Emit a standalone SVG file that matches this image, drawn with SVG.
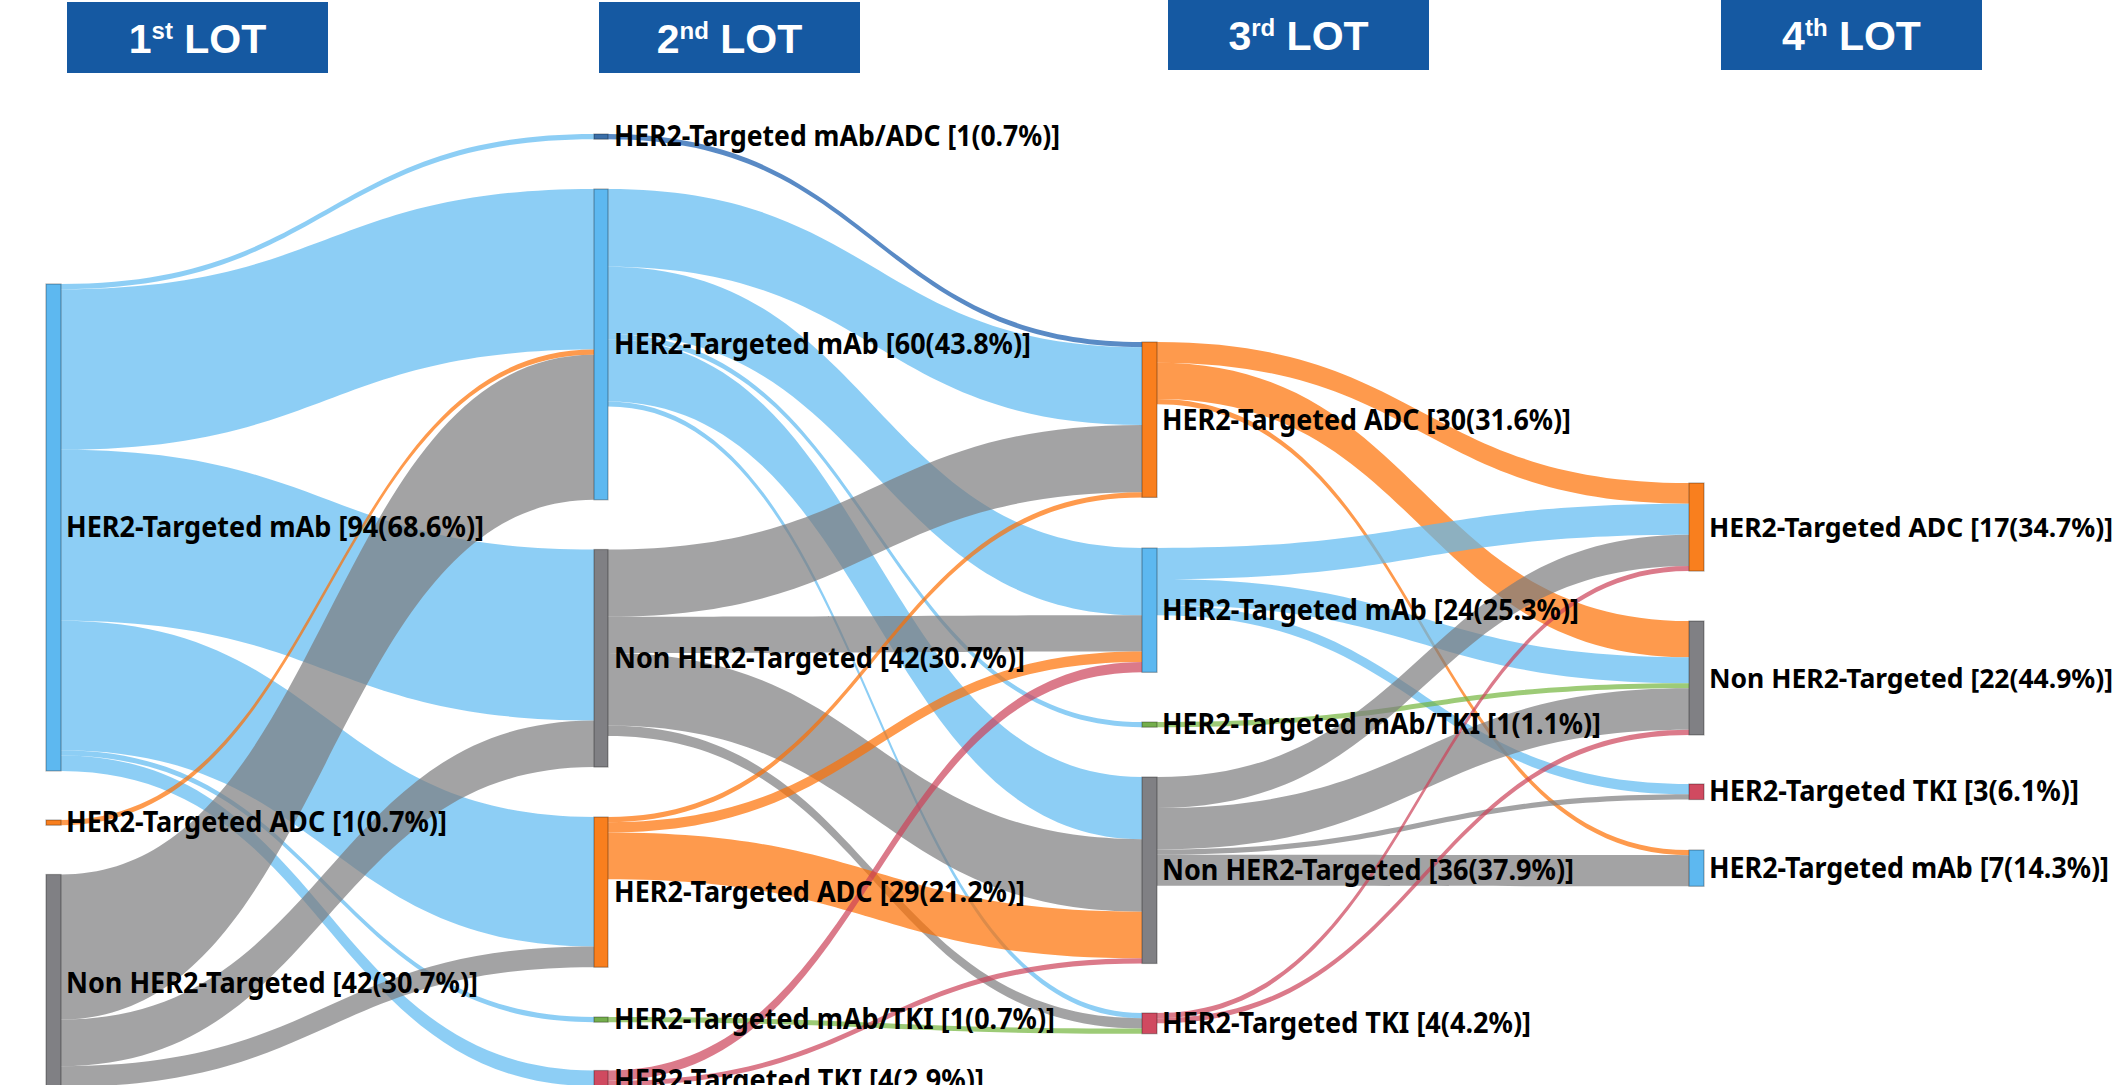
<svg xmlns="http://www.w3.org/2000/svg" width="2124" height="1085" viewBox="0 0 2124 1085">
<style>
.hdr{fill:#1559A2}
.ht{font-family:"Liberation Sans",Arial,sans-serif;font-weight:bold;font-size:41px;fill:#ffffff}
.lbl{font-family:"Noto Sans","DejaVu Sans",sans-serif;font-weight:bold;font-size:28px;fill:#000000}
.sm{font-size:26.5px}
.node{stroke:#000;stroke-opacity:0.3;stroke-width:1.2}
.nb{fill:#5DB8F0}.no{fill:#F97F1E}.ng{fill:#808084}.nr{fill:#D04A60}.nn{fill:#74AE4C}.nd{fill:#3A6EA8}
.lk{fill-opacity:0.7;stroke:none}
.b{fill:#5CB9F1}.o{fill:#FE6F02}.g{fill:#7C7C7E}.r{fill:#CC4158}.n{fill:#73B53D}.d{fill:#1359AC}
</style>
<rect width="2124" height="1085" fill="#ffffff"/>
<g id="headers">
<rect class="hdr" x="67" y="2" width="261" height="71"/>
<text class="ht" x="197.5" y="53" text-anchor="middle">1<tspan dy="-14" font-size="24">st</tspan><tspan dy="14"> LOT</tspan></text>
<rect class="hdr" x="599" y="2" width="261" height="71"/>
<text class="ht" x="729.5" y="53" text-anchor="middle">2<tspan dy="-14" font-size="24">nd</tspan><tspan dy="14"> LOT</tspan></text>
<rect class="hdr" x="1168" y="0" width="261" height="70"/>
<text class="ht" x="1298.5" y="50" text-anchor="middle">3<tspan dy="-14" font-size="24">rd</tspan><tspan dy="14"> LOT</tspan></text>
<rect class="hdr" x="1721" y="0" width="261" height="70"/>
<text class="ht" x="1851.5" y="50" text-anchor="middle">4<tspan dy="-14" font-size="24">th</tspan><tspan dy="14"> LOT</tspan></text>
</g>
<g id="links">
<!-- col1 -> col2 -->
<path class="lk b" d="M61,284 C327.5,284 327.5,134 594,134 L594,139.18 C327.5,139.18 327.5,289.18 61,289.18 Z"/>
<path class="lk b" d="M61,289.18 C327.5,289.18 327.5,189 594,189 L594,349.58 C327.5,349.58 327.5,449.76 61,449.76 Z"/>
<path class="lk b" d="M61,449.76 C327.5,449.76 327.5,549.5 594,549.5 L594,720.44 C327.5,720.44 327.5,620.7 61,620.7 Z"/>
<path class="lk b" d="M61,620.7 C327.5,620.7 327.5,817 594,817 L594,946.5 C327.5,946.5 327.5,750.2 61,750.2 Z"/>
<path class="lk b" d="M61,750.2 C327.5,750.2 327.5,1017 594,1017 L594,1022.18 C327.5,1022.18 327.5,755.38 61,755.38 Z"/>
<path class="lk b" d="M61,755.38 C327.5,755.38 327.5,1070.5 594,1070.5 L594,1086.04 C327.5,1086.04 327.5,770.92 61,770.92 Z"/>
<path class="lk o" d="M61,820 C327.5,820 327.5,349.58 594,349.58 L594,354.76 C327.5,354.76 327.5,825.18 61,825.18 Z"/>
<path class="lk g" d="M61,874.5 C327.5,874.5 327.5,354.76 594,354.76 L594,499.8 C327.5,499.8 327.5,1019.54 61,1019.54 Z"/>
<path class="lk g" d="M61,1019.54 C327.5,1019.54 327.5,720.44 594,720.44 L594,767.06 C327.5,767.06 327.5,1066.16 61,1066.16 Z"/>
<path class="lk g" d="M61,1066.16 C327.5,1066.16 327.5,946.5 594,946.5 L594,967.22 C327.5,967.22 327.5,1086.88 61,1086.88 Z"/>
<path class="lk g" d="M61,1086.88 C327.5,1086.88 327.5,1086.04 594,1086.04 L594,1091.22 C327.5,1091.22 327.5,1092.06 61,1092.06 Z"/>
<!-- col2 -> col3 -->
<path class="lk d" d="M608,134 C875,134 875,342 1142,342 L1142,347.18 C875,347.18 875,139.18 608,139.18 Z"/>
<path class="lk b" d="M608,189 C875,189 875,347.18 1142,347.18 L1142,424.88 C875,424.88 875,266.7 608,266.7 Z"/>
<path class="lk b" d="M608,266.7 C875,266.7 875,548 1142,548 L1142,615.34 C875,615.34 875,334.04 608,334.04 Z"/>
<path class="lk b" d="M608,334.04 C875,334.04 875,722 1142,722 L1142,727.18 C875,727.18 875,339.22 608,339.22 Z"/>
<path class="lk b" d="M608,339.22 C875,339.22 875,777 1142,777 L1142,839.16 C875,839.16 875,401.38 608,401.38 Z"/>
<path class="lk b" d="M608,401.38 C875,401.38 875,1013 1142,1013 L1142,1018.18 C875,1018.18 875,406.56 608,406.56 Z"/>
<path class="lk g" d="M608,549.5 C875,549.5 875,424.88 1142,424.88 L1142,492.22 C875,492.22 875,616.84 608,616.84 Z"/>
<path class="lk g" d="M608,616.84 C875,616.84 875,615.34 1142,615.34 L1142,651.6 C875,651.6 875,653.1 608,653.1 Z"/>
<path class="lk g" d="M608,653.1 C875,653.1 875,839.16 1142,839.16 L1142,911.68 C875,911.68 875,725.62 608,725.62 Z"/>
<path class="lk g" d="M608,725.62 C875,725.62 875,1018.18 1142,1018.18 L1142,1028.54 C875,1028.54 875,735.98 608,735.98 Z"/>
<path class="lk o" d="M608,817 C875,817 875,492.22 1142,492.22 L1142,497.4 C875,497.4 875,822.18 608,822.18 Z"/>
<path class="lk o" d="M608,822.18 C875,822.18 875,651.6 1142,651.6 L1142,661.96 C875,661.96 875,832.54 608,832.54 Z"/>
<path class="lk o" d="M608,832.54 C875,832.54 875,911.68 1142,911.68 L1142,958.3 C875,958.3 875,879.16 608,879.16 Z"/>
<path class="lk n" d="M608,1017 C875,1017 875,1028.54 1142,1028.54 L1142,1033.72 C875,1033.72 875,1022.18 608,1022.18 Z"/>
<path class="lk r" d="M608,1070.5 C875,1070.5 875,661.96 1142,661.96 L1142,672.32 C875,672.32 875,1080.86 608,1080.86 Z"/>
<path class="lk r" d="M608,1080.86 C875,1080.86 875,958.3 1142,958.3 L1142,963.48 C875,963.48 875,1086.04 608,1086.04 Z"/>
<!-- col3 -> col4 -->
<path class="lk o" d="M1157,342 C1423,342 1423,483 1689,483 L1689,503.72 C1423,503.72 1423,362.72 1157,362.72 Z"/>
<path class="lk o" d="M1157,362.72 C1423,362.72 1423,621 1689,621 L1689,657.26 C1423,657.26 1423,398.98 1157,398.98 Z"/>
<path class="lk o" d="M1157,398.98 C1423,398.98 1423,850 1689,850 L1689,855.18 C1423,855.18 1423,404.16 1157,404.16 Z"/>
<path class="lk b" d="M1157,548 C1423,548 1423,503.72 1689,503.72 L1689,534.8 C1423,534.8 1423,579.08 1157,579.08 Z"/>
<path class="lk b" d="M1157,579.08 C1423,579.08 1423,657.26 1689,657.26 L1689,683.16 C1423,683.16 1423,604.98 1157,604.98 Z"/>
<path class="lk b" d="M1157,604.98 C1423,604.98 1423,784 1689,784 L1689,794.36 C1423,794.36 1423,615.34 1157,615.34 Z"/>
<path class="lk n" d="M1157,722 C1423,722 1423,683.16 1689,683.16 L1689,688.34 C1423,688.34 1423,727.18 1157,727.18 Z"/>
<path class="lk g" d="M1157,777 C1423,777 1423,534.8 1689,534.8 L1689,565.88 C1423,565.88 1423,808.08 1157,808.08 Z"/>
<path class="lk g" d="M1157,808.08 C1423,808.08 1423,688.34 1689,688.34 L1689,729.78 C1423,729.78 1423,849.52 1157,849.52 Z"/>
<path class="lk g" d="M1157,849.52 C1423,849.52 1423,794.36 1689,794.36 L1689,799.54 C1423,799.54 1423,854.7 1157,854.7 Z"/>
<path class="lk g" d="M1157,854.7 C1423,854.7 1423,855.18 1689,855.18 L1689,886.26 C1423,886.26 1423,885.78 1157,885.78 Z"/>
<path class="lk r" d="M1157,1013 C1423,1013 1423,565.88 1689,565.88 L1689,571.06 C1423,571.06 1423,1018.18 1157,1018.18 Z"/>
<path class="lk r" d="M1157,1018.18 C1423,1018.18 1423,729.78 1689,729.78 L1689,734.96 C1423,734.96 1423,1023.36 1157,1023.36 Z"/>
</g>
<g id="n1-mab"><rect class="node nb" x="46" y="284" width="15" height="486.92"/><text class="lbl" x="66" y="537" textLength="418" lengthAdjust="spacingAndGlyphs">HER2-Targeted mAb [94(68.6%)]</text></g>
<g id="n1-adc"><rect class="node no" x="46" y="820" width="15" height="5.18"/><text class="lbl" x="66" y="832" textLength="381" lengthAdjust="spacingAndGlyphs">HER2-Targeted ADC [1(0.7%)]</text></g>
<g id="n1-non"><rect class="node ng" x="46" y="874.5" width="15" height="217.56"/><text class="lbl" x="66" y="993" textLength="412" lengthAdjust="spacingAndGlyphs">Non HER2-Targeted [42(30.7%)]</text></g>
<g id="n2-mabadc"><rect class="node nd" x="594" y="134" width="14" height="5.18"/><text class="lbl" x="614" y="146" textLength="446" lengthAdjust="spacingAndGlyphs">HER2-Targeted mAb/ADC [1(0.7%)]</text></g>
<g id="n2-mab"><rect class="node nb" x="594" y="189" width="14" height="310.8"/><text class="lbl" x="614" y="353.5" textLength="417" lengthAdjust="spacingAndGlyphs">HER2-Targeted mAb [60(43.8%)]</text></g>
<g id="n2-non"><rect class="node ng" x="594" y="549.5" width="14" height="217.56"/><text class="lbl" x="614" y="668" textLength="411" lengthAdjust="spacingAndGlyphs">Non HER2-Targeted [42(30.7%)]</text></g>
<g id="n2-adc"><rect class="node no" x="594" y="817" width="14" height="150.22"/><text class="lbl" x="614" y="901.5" textLength="411" lengthAdjust="spacingAndGlyphs">HER2-Targeted ADC [29(21.2%)]</text></g>
<g id="n2-mabtki"><rect class="node nn" x="594" y="1017" width="14" height="5.18"/><text class="lbl" x="614" y="1029" textLength="441" lengthAdjust="spacingAndGlyphs">HER2-Targeted mAb/TKI [1(0.7%)]</text></g>
<g id="n2-tki"><rect class="node nr" x="594" y="1070.5" width="14" height="20.72"/><text class="lbl" x="614" y="1090" textLength="370" lengthAdjust="spacingAndGlyphs">HER2-Targeted TKI [4(2.9%)]</text></g>
<g id="n3-adc"><rect class="node no" x="1142" y="342" width="15" height="155.4"/><text class="lbl" x="1162" y="429.5" textLength="409" lengthAdjust="spacingAndGlyphs">HER2-Targeted ADC [30(31.6%)]</text></g>
<g id="n3-mab"><rect class="node nb" x="1142" y="548" width="15" height="124.32"/><text class="lbl" x="1162" y="619.5" textLength="417" lengthAdjust="spacingAndGlyphs">HER2-Targeted mAb [24(25.3%)]</text></g>
<g id="n3-mabtki"><rect class="node nn" x="1142" y="722" width="15" height="5.18"/><text class="lbl" x="1162" y="734" textLength="439" lengthAdjust="spacingAndGlyphs">HER2-Targeted mAb/TKI [1(1.1%)]</text></g>
<g id="n3-non"><rect class="node ng" x="1142" y="777" width="15" height="186.48"/><text class="lbl" x="1162" y="879.5" textLength="412" lengthAdjust="spacingAndGlyphs">Non HER2-Targeted [36(37.9%)]</text></g>
<g id="n3-tki"><rect class="node nr" x="1142" y="1013" width="15" height="20.72"/><text class="lbl" x="1162" y="1033" textLength="369" lengthAdjust="spacingAndGlyphs">HER2-Targeted TKI [4(4.2%)]</text></g>
<g id="n4-adc"><rect class="node no" x="1689" y="483" width="15" height="88.06"/><text class="lbl sm" x="1709" y="536.5" textLength="404" lengthAdjust="spacingAndGlyphs">HER2-Targeted ADC [17(34.7%)]</text></g>
<g id="n4-non"><rect class="node ng" x="1689" y="621" width="15" height="113.96"/><text class="lbl sm" x="1709" y="687.5" textLength="404" lengthAdjust="spacingAndGlyphs">Non HER2-Targeted [22(44.9%)]</text></g>
<g id="n4-tki"><rect class="node nr" x="1689" y="784" width="15" height="15.54"/><text class="lbl" x="1709" y="801" textLength="370" lengthAdjust="spacingAndGlyphs">HER2-Targeted TKI [3(6.1%)]</text></g>
<g id="n4-mab"><rect class="node nb" x="1689" y="850" width="15" height="36.26"/><text class="lbl" x="1709" y="877.5" textLength="400" lengthAdjust="spacingAndGlyphs">HER2-Targeted mAb [7(14.3%)]</text></g>
</svg>
